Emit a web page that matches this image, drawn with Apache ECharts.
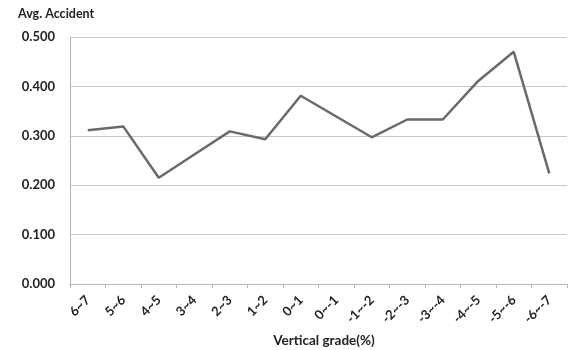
<!DOCTYPE html>
<html><head><meta charset="utf-8">
<script src="https://cdn.jsdelivr.net/npm/echarts@6/dist/echarts.min.js"></script>
<style>html,body{margin:0;padding:0;background:#fff}#c{width:572px;height:350px}</style>
</head><body><div id="c"></div>
<script>
const categories = ["6~7","5~6","4~5","3~4","2~3","1~2","0~1","0~-1","-1~-2","-2~-3","-3~-4","-4~-5","-5~-6","-6~-7"];
const avgAccident = [0.311,0.319,0.215,0.262,0.309,0.293,0.381,0.339,0.297,0.333,0.333,0.411,0.470,0.224];
const yTicks = [0,0.1,0.2,0.3,0.4,0.5];
const yName = "Avg. Accident";
const xName = "Vertical grade(%)";

const chart = echarts.init(document.getElementById('c'), null, {renderer:'canvas'});
const font = 'Lato, "Open Sans", sans-serif';
chart.setOption({
  animation:false,
  textStyle:{fontFamily:font},
  grid:{left:70,right:5,top:37,bottom:66,containLabel:false},
  title:[
    {text:yName,left:13,top:2,textStyle:{fontFamily:font,fontSize:12.5,fontWeight:'bold',color:'#222'}},
    {text:xName,left:319,top:329,textAlign:'center',textStyle:{fontFamily:font,fontSize:13.5,fontWeight:'bold',color:'#222'}}
  ],
  xAxis:{type:'category',data:categories,boundaryGap:true,
    axisLine:{lineStyle:{color:'#b5b5b5',width:1}},
    axisTick:{show:true,length:4,lineStyle:{color:'#b5b5b5'}},
    axisLabel:{rotate:45,fontSize:13,fontWeight:'bold',color:'#222',margin:14,fontFamily:font}},
  yAxis:{type:'value',min:yTicks[0],max:yTicks[yTicks.length-1],interval:0.1,
    axisLine:{show:true,lineStyle:{color:'#b5b5b5'}},
    axisTick:{show:false},
    splitLine:{lineStyle:{color:'#c8c8c8',width:1}},
    axisLabel:{formatter:v=>v.toFixed(3),fontSize:13,fontWeight:'bold',color:'#222',margin:15,fontFamily:font}},
  series:[{type:'line',data:avgAccident,symbol:'none',lineStyle:{color:'#6a6a6a',width:2.5}}]
});
</script></body></html>
